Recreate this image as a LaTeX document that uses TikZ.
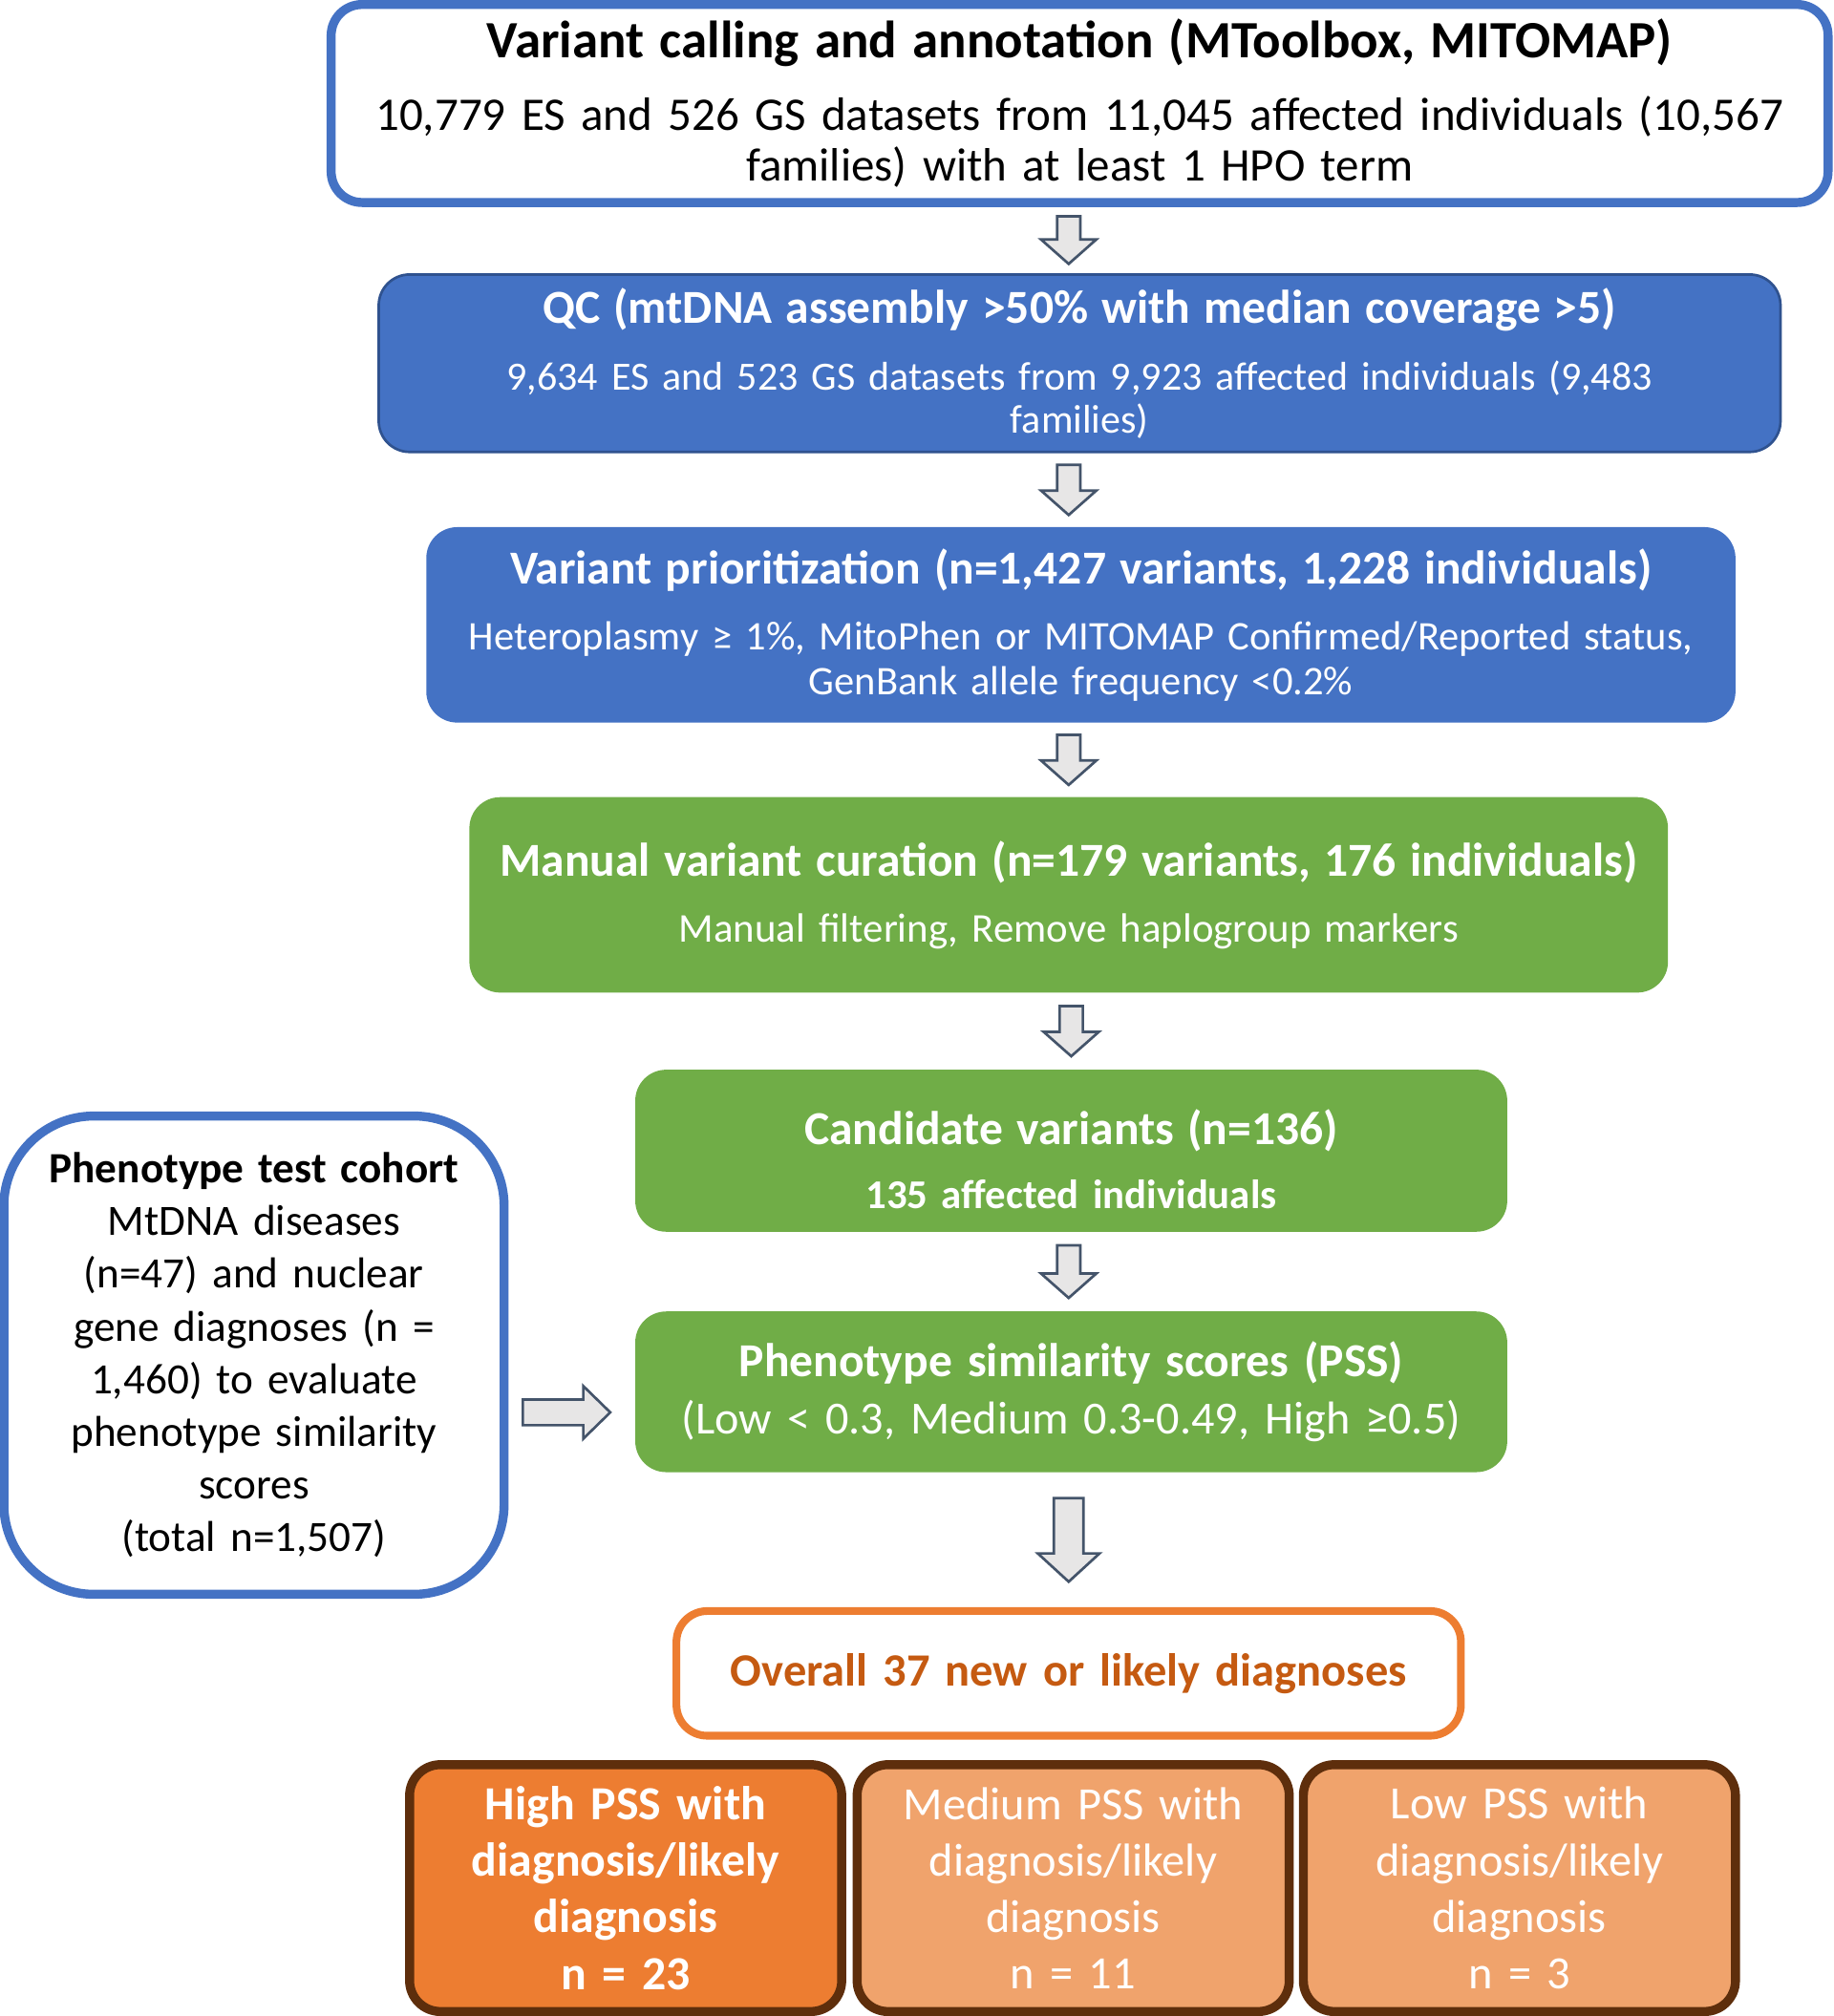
\documentclass[tikz,border=0pt]{standalone}
\usepackage{fontspec}
\setmainfont{Carlito}
\usetikzlibrary{calc}

\definecolor{boxblue}{HTML}{4472C4}
\definecolor{blueedge}{HTML}{2F528F}
\definecolor{boxgreen}{HTML}{70AD47}
\definecolor{boxorange}{HTML}{ED7D31}
\definecolor{textorange}{HTML}{C55A11}
\definecolor{paleorange}{HTML}{F0A36C}
\definecolor{brownedge}{HTML}{5E2E0C}
\definecolor{arrowfill}{HTML}{E7E6E6}
\definecolor{arrowedge}{HTML}{44546A}

\newcommand{\titlefont}{\bfseries\fontsize{18.4}{22}\selectfont}
\newcommand{\bigtitlefont}{\bfseries\fontsize{20.4}{24}\selectfont}
\newcommand{\bodyfont}{\fontsize{16.5}{20}\selectfont}

% block arrows: centre, shaft half width, head half width, shaft length, head length
\newcommand{\blockdown}[5]{\filldraw[blockarrow] #1 ++(-#2,-#4/2-#5/2) -- ++(0,#4) -- ++(#2-#3,0) -- ++(#3,#5) -- ++(#3,-#5) -- ++(#2-#3,0) -- ++(0,-#4) -- cycle;}
\newcommand{\blockright}[5]{\filldraw[blockarrow] #1 ++(-#4/2-#5/2,-#2) -- ++(#4,0) -- ++(0,#2-#3) -- ++(#5,#3) -- ++(-#5,#3) -- ++(0,#2-#3) -- ++(-#4,0) -- cycle;}

\tikzset{
  box/.style={rounded corners=12pt, align=center, inner sep=0pt},
  whitebox/.style={box, fill=white, draw=boxblue, line width=3.5pt},
  bluebox/.style={box, fill=boxblue, text=white},
  greenbox/.style={box, fill=boxgreen, text=white},
  resultbox/.style={box, fill=white, draw=boxorange, line width=3pt, text=textorange},
  pssbox/.style={box, draw=brownedge, line width=3.5pt, text=white, minimum width=168pt, minimum height=96pt, text width=162pt, font=\fontsize{18}{22}\selectfont},
  blockarrow/.style={fill=arrowfill, draw=arrowedge, line width=1pt, line join=miter}
}

\begin{document}
\begin{tikzpicture}[x=0.5pt, y=-0.5pt]
\useasboundingbox (0,0) rectangle (1426,1568);

\node[whitebox, minimum width=582pt, minimum height=77pt, text width=570pt, font=\fontsize{18.2}{20}\selectfont] (calling) at (839.5,80.5)
  {{\bigtitlefont Variant calling and annotation (MToolbox, MITOMAP)}\\[8pt]
   10,779 ES and 526 GS datasets from 11,045 affected individuals (10,567\\ families) with at least 1 HPO term};

\node[bluebox, draw=blueedge, line width=1pt, minimum width=545pt, minimum height=69pt, text width=520pt, font=\fontsize{15.6}{16.5}\selectfont] (qc) at (839.5,282.5)
  {{\titlefont QC (mtDNA assembly >50\% with median coverage >5)}\\[9.5pt]
   9,634 ES and 523 GS datasets from 9,923 affected individuals (9,483\\ families)};

\node[bluebox, minimum width=509pt, minimum height=76pt, text width=495pt, font=\fontsize{15.8}{17.5}\selectfont] (prio) at (840.5,486)
  {{\titlefont Variant prioritization (n=1,427 variants, 1,228 individuals)}\\[8pt]
   Heteroplasmy ≥ 1\%, MitoPhen or MITOMAP Confirmed/Reported status,\\ GenBank allele frequency <0.2\%};

\node[greenbox, minimum width=466pt, minimum height=76pt, text width=455pt, font=\fontsize{15.9}{17.5}\selectfont] (manual) at (831,696)
  {{\titlefont Manual variant curation (n=179 variants, 176 individuals)}\\[8pt]
   Manual filtering, Remove haplogroup markers};

\node[greenbox, minimum width=339pt, minimum height=63pt, text width=320pt, font=\bfseries\fontsize{15.9}{16}\selectfont] (cand) at (833,895)
  {{\titlefont\rule{0pt}{20pt}Candidate variants (n=136)}\\[9pt]
   135 affected individuals};

\node[greenbox, minimum width=339pt, minimum height=62.5pt, text width=325pt, font=\fontsize{17.9}{20}\selectfont] (pss) at (833,1082.5)
  {{\titlefont Phenotype similarity scores (PSS)}\\[2.5pt]
   (Low < 0.3, Medium 0.3-0.49, High ≥0.5)};

\node[whitebox, rounded corners=35pt, minimum width=194.5pt, minimum height=186pt, text width=182pt, font=\fontsize{16.8}{20.5}\selectfont] (cohort) at (197.5,1054)
  {{\bfseries Phenotype test cohort}\\
   MtDNA diseases\\ (n=47) and nuclear\\ gene diagnoses (n =\\ 1,460) to evaluate\\ phenotype similarity\\ scores\\ (total n=1,507)};

\node[resultbox, minimum width=305pt, minimum height=48.5pt, text width=295pt, font=\bfseries\fontsize{18}{20}\selectfont] (overall) at (831,1301.5)
  {Overall 37 new or likely diagnoses};

\node[pssbox, fill=boxorange, font=\bfseries\fontsize{18.5}{22}\selectfont] (high) at (486.5,1468.5)
  {High PSS with\\ diagnosis/likely\\ diagnosis\\ n = 23};
\node[pssbox, fill=paleorange] (medium) at (834.5,1468.5)
  {Medium PSS with\\ diagnosis/likely\\ diagnosis\\ n = 11};
\node[pssbox, fill=paleorange] (low) at (1181.5,1468.5)
  {Low PSS with\\ diagnosis/likely\\ diagnosis\\ n = 3};

\coordinate (a1) at ($(calling.south)!0.5!(qc.north)$);
\coordinate (a2) at ($(qc.south)!0.5!(prio.north)$);
\coordinate (a3) at ($(prio.south)!0.5!(manual.north)$);
\coordinate (a4) at ($(manual.south)!0.5!(cand.north)$);
\coordinate (a5) at ($(cand.south)!0.5!(pss.north)$);
\coordinate (a6) at ($(pss.south)!0.5!(overall.north)$);
\coordinate (a7) at ($(cohort.east |- pss)!0.5!(pss.west)+(-4,16)$);

\blockdown{(a1 -| manual)}{9}{21.5}{18}{19}
\blockdown{(a2 -| manual)}{9}{21.5}{20}{19}
\blockdown{(a3 -| manual)}{9}{21.5}{20}{19}
\blockdown{(a4 -| cand)}{9}{21.5}{20}{19}
\blockdown{(a5 -| manual)}{9}{21.5}{22}{19}
\blockdown{(a6 -| overall)}{11.5}{24}{43}{22}
\blockright{(a7)}{10}{20.5}{47}{21}

\end{tikzpicture}
\end{document}
